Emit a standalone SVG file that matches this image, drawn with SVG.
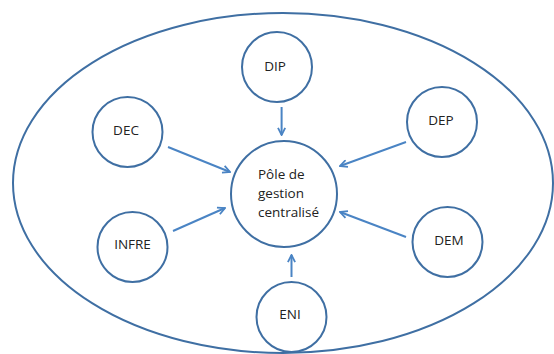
<svg xmlns="http://www.w3.org/2000/svg" width="554" height="354" viewBox="0 0 554 354">
<style>
.node{fill:#fff;stroke:#3F6FA3;stroke-width:2}
.lbl{font-family:"Open Sans","Liberation Sans",sans-serif;font-size:13.5px;fill:#222;text-anchor:middle}
.ctr{font-family:"Open Sans","Liberation Sans",sans-serif;font-size:13.5px;fill:#222}
.conn{stroke:#4A84C4;stroke-width:2;fill:none;marker-end:url(#ah)}
</style>
<defs>
<marker id="ah" viewBox="0 0 10 10" refX="9" refY="5" markerWidth="4.5" markerHeight="4.5" orient="auto" markerUnits="strokeWidth">
<path d="M1,1 L9,5 L1,9" fill="none" stroke="#4A84C4" stroke-width="2"/>
</marker>
</defs>
<rect width="554" height="354" fill="#fff"/>
<g id="frame"><ellipse cx="283" cy="183" rx="270" ry="170" fill="none" stroke="#3F6FA3" stroke-width="2"/></g>
<g id="center"><circle class="node" cx="284" cy="194" r="53"/>
<text class="ctr" x="258" y="179">Pôle de</text>
<text class="ctr" x="258" y="198">gestion</text>
<text class="ctr" x="258" y="217">centralisé</text></g>
<g id="dip"><circle class="node" cx="277" cy="67" r="35"/><text class="lbl" x="275" y="71">DIP</text></g>
<g id="dec"><circle class="node" cx="127.5" cy="132" r="35"/><text class="lbl" x="126" y="135">DEC</text></g>
<g id="dep"><circle class="node" cx="442" cy="122" r="35"/><text class="lbl" x="441" y="125">DEP</text></g>
<g id="infre"><circle class="node" cx="132.5" cy="247" r="35"/><text class="lbl" x="132.5" y="249">INFRE</text></g>
<g id="dem"><circle class="node" cx="447.5" cy="242" r="35"/><text class="lbl" x="449" y="245">DEM</text></g>
<g id="eni"><circle class="node" cx="291.5" cy="317" r="35"/><text class="lbl" x="290" y="319">ENI</text></g>
<g id="connectors">
<line class="conn" x1="281.6" y1="107" x2="281.6" y2="135"/>
<line class="conn" x1="168" y1="147" x2="230" y2="172"/>
<line class="conn" x1="406" y1="142" x2="340" y2="166"/>
<line class="conn" x1="173" y1="231" x2="225" y2="208"/>
<line class="conn" x1="406" y1="237" x2="340" y2="212"/>
<line class="conn" x1="291.5" y1="277" x2="291.5" y2="255"/>
</g>
</svg>
